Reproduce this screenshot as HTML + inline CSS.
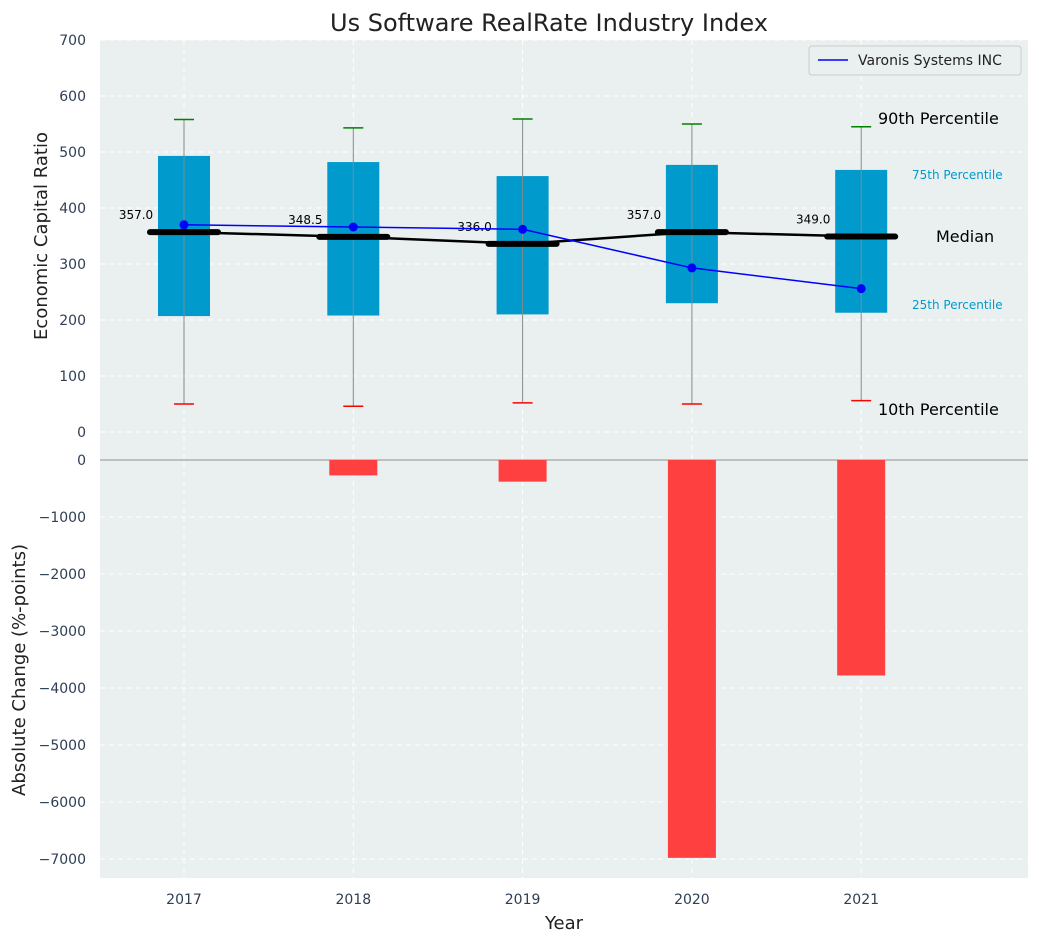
<!DOCTYPE html>
<html><head><meta charset="utf-8"><style>
body{margin:0;background:#fff;font-family:"Liberation Sans","DejaVu Sans",sans-serif}
svg text{font-family:"DejaVu Sans","Liberation Sans",sans-serif}
</style></head><body>
<svg id="c" width="1039" height="942" xmlns="http://www.w3.org/2000/svg"></svg>
<script>
const years=[2017,2018,2019,2020,2021];
const p10=[50,46,52,50,56];
const q1=[207,208,210,230,213];
const med=[357,348.5,336,357,349];
const q3=[493,482,457,477,468];
const p90=[558,543,559,550,545];
const varonis=[370,366,362,293,256];
const changes=[0,-270,-380,-6980,-3780];
const topTicks=[0,100,200,300,400,500,600,700];
const botTicks=[0,-1000,-2000,-3000,-4000,-5000,-6000,-7000];

const NS="http://www.w3.org/2000/svg";
const svg=document.getElementById('c');
function el(t,a,txt,name,p){const e=document.createElementNS(NS,t);for(const k in a)e.setAttribute(k,a[k]);if(txt!=null)e.textContent=txt;


(p||svg).appendChild(e);return e;}
const X=y=>184+(y-2017)*169.3;
const YT=v=>432-v*0.56;
const YB=v=>460-v*(-399/-7000)*-1;
function yb(v){return 460-v*0.057;}

el('rect',{x:100,y:40,width:928,height:838,fill:'#eaeff0'},null,'plot-background');
// grids
topTicks.forEach(t=>{el('line',{x1:100,x2:1028,y1:YT(t),y2:YT(t),stroke:'#fff','stroke-dasharray':'5,4','stroke-width':1},null,'grid-line');
el('text',{x:86,y:YT(t)+5,'text-anchor':'end','font-size':14,fill:'#2e3f55'},t,'y-tick-label');});
botTicks.forEach(t=>{el('line',{x1:100,x2:1028,y1:yb(t),y2:yb(t),stroke:'#fff','stroke-dasharray':'5,4','stroke-width':1},null,'grid-line');
el('text',{x:86,y:yb(t)+5,'text-anchor':'end','font-size':14,fill:'#2e3f55'},t===0?'0':'\u2212'+(-t),'y-tick-label-bottom');});
years.forEach(y=>{el('line',{x1:X(y),x2:X(y),y1:40,y2:878,stroke:'#fff','stroke-dasharray':'5,4'},null,'grid-line-x');
el('text',{x:X(y),y:904,'text-anchor':'middle','font-size':14,fill:'#2e3f55'},y,'x-tick-label');});
el('line',{x1:100,x2:1028,y1:460,y2:460,stroke:'#b0b0b0','stroke-width':1.5},null,'zero-line');
// bars
years.forEach((y,i)=>{const v=changes[i];if(v!==0)el('rect',{x:X(y)-24,y:460,width:48,height:yb(v)-460,fill:'#ff4040'},null,'change-bar');});
// boxes
years.forEach((y,i)=>{const x=X(y);
el('rect',{x:x-26,y:YT(q3[i]),width:52,height:YT(q1[i])-YT(q3[i]),fill:'#009acd'},null,'iqr-box');
el('line',{x1:x,x2:x,y1:YT(p90[i]),y2:YT(p10[i]),stroke:'#7f8c8d','stroke-width':1},null,'whisker');
el('line',{x1:x-10,x2:x+10,y1:YT(p90[i]),y2:YT(p90[i]),stroke:'green','stroke-width':1.5},null,'p90-cap');
el('line',{x1:x-10,x2:x+10,y1:YT(p10[i]),y2:YT(p10[i]),stroke:'red','stroke-width':1.5},null,'p10-cap');
});
el('polyline',{points:years.map((y,i)=>X(y)+','+YT(med[i])).join(' '),fill:'none',stroke:'#000','stroke-width':2.5},null,'median-line');
years.forEach((y,i)=>{const x=X(y);
el('line',{x1:x-34,x2:x+34,y1:YT(med[i]),y2:YT(med[i]),stroke:'#000','stroke-width':6,'stroke-linecap':'round'},null,'median-marker');
el('text',{x:x-48,y:YT(med[i])-13,'text-anchor':'middle','font-size':12,fill:'#000'},med[i].toFixed(1),'median-label');});
el('polyline',{points:years.map((y,i)=>X(y)+','+YT(varonis[i])).join(' '),fill:'none',stroke:'blue','stroke-width':1.5},null,'varonis-line');
years.forEach((y,i)=>el('circle',{cx:X(y),cy:YT(varonis[i]),r:4.5,fill:'blue'},null,'varonis-point'));
// annotations
el('text',{x:878,y:124,'font-size':16,fill:'#000'},'90th Percentile','p90-annotation');
el('text',{x:912,y:179,'font-size':12,fill:'#009acd'},'75th Percentile','p75-annotation');
el('text',{x:936,y:242,'font-size':16,fill:'#000'},'Median','median-annotation');
el('text',{x:912,y:309,'font-size':12,fill:'#009acd'},'25th Percentile','p25-annotation');
el('text',{x:878,y:415,'font-size':16,fill:'#000'},'10th Percentile','p10-annotation');
// legend
const lg=el('g',{},null,'legend');
el('rect',{x:809,y:46,width:212,height:29,rx:3,fill:'#eaeff0',stroke:'#ccc'},null,'legend-box',lg);
el('line',{x1:818,x2:848,y1:60,y2:60,stroke:'blue','stroke-width':1.5},null,'legend-swatch',lg);
el('text',{x:858,y:65,'font-size':14,fill:'#222'},'Varonis Systems INC','legend-entry',lg);
// titles
el('text',{x:549,y:31,'text-anchor':'middle','font-size':24,fill:'#222'},'Us Software RealRate Industry Index','chart-title');
el('text',{x:564,y:929,'text-anchor':'middle','font-size':18,fill:'#222'},'Year','x-axis-title');
el('text',{x:0,y:0,'text-anchor':'middle','font-size':18,fill:'#222',transform:'translate(47,236) rotate(-90)'},'Economic Capital Ratio','y-axis-title-top');
el('text',{x:0,y:0,'text-anchor':'middle','font-size':18,fill:'#222',transform:'translate(25,670) rotate(-90)'},'Absolute Change (%-points)','y-axis-title-bottom');
</script>
</body></html>
